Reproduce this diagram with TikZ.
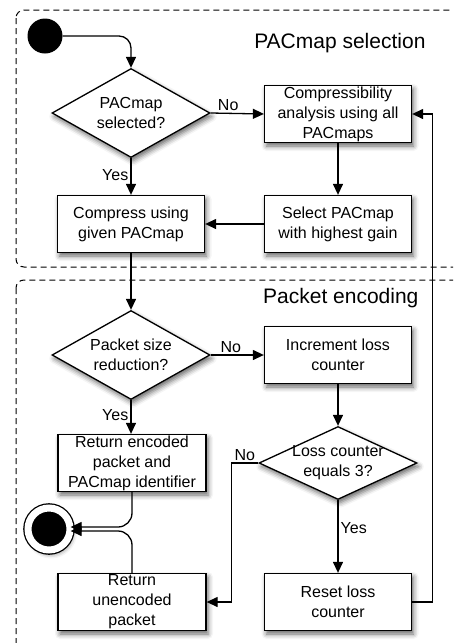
\documentclass[tikz,border=0pt]{standalone}
\usepackage{fontspec}
\setmainfont{Liberation Sans}
\usetikzlibrary{positioning, arrows.meta, shapes.geometric, shadows.blur}

\begin{document}
\begin{tikzpicture}[%
		x=1pt, y=-1pt,
		font=\fontsize{16}{20}\selectfont,
		shade/.style={
			blur shadow={shadow xshift=2pt, shadow yshift=-3.5pt, shadow blur radius=5pt, shadow opacity=60}
		},
		initial/.style={
			circle,
			fill=black,
			inner sep=0pt,
			minimum size=35pt
		},
		final/.style={
			circle,
			fill=black,
			draw=black,
			line width=1.3pt,
			double=white,
			double distance=7pt,
			inner sep=0pt,
			minimum size=42pt,
			shade
		},
		decision/.style={
			diamond,
			draw,
			fill=white,
			line width=1.3pt,
			aspect=1.8,
			inner xsep=0pt,
			inner ysep=-6pt,
			minimum width=158pt,
			minimum height=89pt,
			align=center,
			shade
		},
		process/.style={
			rectangle,
			draw,
			fill=white,
			line width=1.3pt,
			inner sep=0pt,
			minimum width=147pt,
			minimum height=57pt,
			align=center,
			shade
		},
		region/.style={
			draw,
			line width=1pt,
			dash pattern=on 6pt off 4pt,
			rounded corners=8pt
		},
		regiontitle/.style={
			anchor=east,
			font=\fontsize{21}{25}\selectfont
		},
		flowline/.style={
			line width=1.3pt
		},
		flowarrow/.style={
			line width=1.3pt,
			-{Triangle[length=11pt, width=10pt]}
		},
		branch/.style={
			inner sep=2pt
		}]

		\useasboundingbox (0,0) rectangle (453,643);
		\clip (0,0) rectangle (453,643);

		% REGIONS

		\draw[region] (16,10) rectangle (480,267);
		\draw[region] (16,280) rectangle (480,660);
		\node (title-sel) [regiontitle] at (429,43) {PACmap selection};
		\node (title-enc) [regiontitle] at (422,298) {Packet encoding};

		% PACMAP SELECTION

		\node (start) [initial] at (45,36) {};
		\node (selected) [decision] at (131,113) {PACmap\\selected?};
		\node (analysis) [process] at (338,114) {Compressibility\\analysis using all\\PACmaps};
		\node (best) [process] at (338,224) {Select PACmap\\with highest gain};
		\node (compress) [process] at (131,224) {Compress using\\given PACmap};

		% PACKET ENCODING

		\node (reduced) [decision] at (131,355) {Packet size\\reduction?};
		\node (increment) [process] at (338,355) {Increment loss\\counter};
		\node (equals3) [decision, aspect=2.16, minimum height=73pt] at (338,463) {Loss counter\\equals 3?};
		\node (encoded) [process, minimum width=148pt] at (132,463) {Return encoded\\packet and\\PACmap identifier};
		\node (stop) [final] at (49,529) {};
		\node (unencoded) [process, minimum width=148pt] at (132,602) {Return\\unencoded\\packet};
		\node (reset) [process] at (338,602) {Reset loss\\counter};

		% SELECTION LINES

		\draw[flowarrow, rounded corners=12pt] (start.east) -| (selected.north);
		\draw[flowarrow] (selected.east) -- node [branch, above, pos=0.33] {No} (analysis.west);
		\draw[flowarrow] (selected.south) -- node [branch, left, pos=0.45] {Yes} (selected.south |- compress.north);
		\draw[flowarrow] (analysis.south) -- (best.north);
		\draw[flowarrow] (best.west) -- (compress.east);
		\draw[flowarrow] (compress.south) -- (compress.south |- reduced.north);

		% ENCODING LINES

		\draw[flowarrow] (reduced.east) -- node [branch, above, pos=0.38] {No} (increment.west);
		\draw[flowarrow] (reduced.south) -- node [branch, left, pos=0.45] {Yes} (reduced.south |- encoded.north);
		\draw[flowarrow] (increment.south) -- (equals3.north);
		\draw[flowarrow] (equals3.south) -- node [branch, right, pos=0.38] {Yes} (reset.north);
		\draw[flowarrow] (equals3.west) -- node [branch, above, pos=0.5] {No} ++(-27,0) |- (unencoded.east);
		\draw[flowarrow, rounded corners=14pt] (encoded.south) |- ([yshift=2pt]stop.east);
		\draw[flowarrow, rounded corners=14pt] (unencoded.north) |- ([yshift=-2pt]stop.east);
		\draw[flowarrow] (reset.east) -- ++(20,0) |- (analysis.east);
\end{tikzpicture}
\end{document}
